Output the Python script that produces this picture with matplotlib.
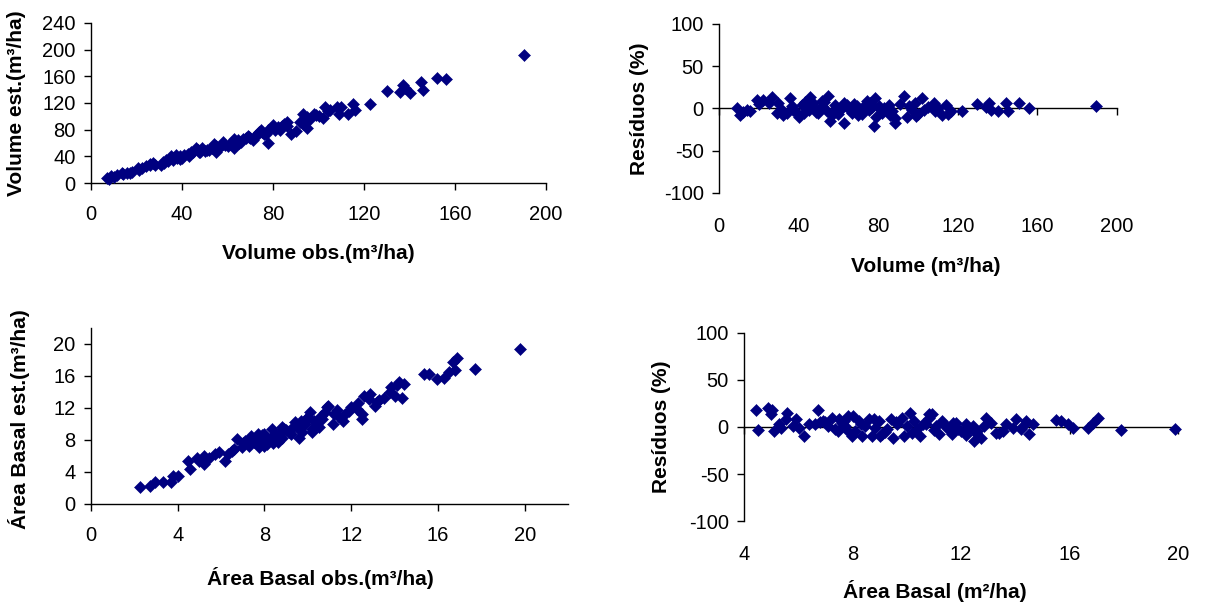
import matplotlib.pyplot as plt
import numpy as np

plt.rcParams['font.family'] = ['Liberation Sans', 'DejaVu Sans']
plt.rcParams['axes.unicode_minus'] = False

# volume: observed x estimated (m3/ha)
vol_obs = [190.2, 152.2, 155.9, 145, 146, 137, 136, 140, 130, 138, 122.6, 115, 116, 113, 108, 109, 110,
           103, 102, 98, 95, 93, 93, 95, 88, 86, 85, 83, 80, 78, 77.6, 76, 74.6, 73, 71, 69.5, 68, 66,
           64.5, 63, 61, 59, 58, 56, 55, 54, 53, 51, 49, 47.6, 46, 44, 42.6, 41, 39, 37.5, 36, 35, 33,
           31.6, 30.8, 27.4, 25.8, 24, 22.4, 20.7, 18, 15.7, 13.6, 11.4, 9, 7.2,
           100, 105, 82, 79, 75, 72, 67, 62, 57, 52, 48, 45, 43, 40, 38, 34, 32, 28, 26, 21, 17, 14,
           10, 8, 65, 70, 84, 96,
           36, 39, 44, 47, 50, 55, 58, 60, 63, 69, 74, 77, 81, 86, 90, 92, 99, 104]
vol_est = [192, 158, 156, 152, 140, 147, 136, 135, 138, 143, 118, 119, 109, 104, 114, 104, 114,
           114, 97, 104, 99, 104, 89, 82, 74, 85, 89, 79, 87, 79, 60, 74, 79, 72, 64, 69, 67, 62,
           64, 53, 59, 57, 59, 52, 47, 59, 52, 49.5, 52, 47, 52, 44.5, 43.5, 42, 40, 42, 37, 40, 35,
           32, 27, 30, 27, 25, 22, 22, 17, 15, 15, 12, 10, 7.4,
           100, 110, 84, 82, 77, 70, 66, 62, 55, 50, 47, 46, 40, 38, 38, 33, 30, 27, 29, 20, 15, 13,
           9, 6, 60, 68, 86, 95,
           34, 36, 46, 50, 48, 55, 61, 56, 66, 71, 76, 73, 80, 91, 78, 92, 102, 108]

# volume residuals (%)
vol_res_x = [8.9, 10.6, 14, 15.6, 19, 22.3, 26.5, 24.9, 29.9, 31.6, 32.4, 35.8, 36.6, 38.3, 40, 41.6,
             45.8, 45, 47.5, 50, 51.7, 55, 54.2, 56, 58.4, 61, 62.6, 64.3, 66.8, 69.4, 71.9, 74.4,
             75.2, 77.7, 78.6, 80.3, 81.9, 85.3, 87, 88.7, 88.7, 92.9, 94.5, 95.4, 98.7, 102, 103,
             108, 108.8, 112, 113.9, 116.4, 122.2, 129.8, 135.7, 136.5, 140.4, 144, 145, 151, 156,
             189.4, 29, 34, 42.5, 12, 20, 48, 53, 60, 65, 70, 73, 76, 83, 86, 97, 100, 105, 110, 115,
             134, 43, 57, 68, 79,
             37, 44, 49, 52, 59, 63, 67, 72, 77, 81, 91, 99]
vol_res = [0.4, -7.5, -1.6, -3.5, 10, 9.5, 13.4, 6.3, 7, -1.6, -7.5, 12.2, 2.4, -3.5, -9.5, 4.3,
           13.4, -1.6, 6.3, -5.5, 2.4, 14.2, -3.5, -15.4, 4.3, -1.6, -17.4, 4.3, -5.5, 2.4, -3.5, 8.3,
           -1.6, -21.3, 12.2, 2.4, -5.5, 4.3, -3.5, -11.4, -17.4, 14.2, -9.5, 2.4, 6.3, 12.2, -1.6,
           6.3, -3.5, -7.5, 4.3, -3.5, -3.5, 5.5, 6.3, -1.6, -3.5, 6.3, -3.5, 6.3, 0.4,
           3, -5.5, -5.5, -5.5, -4, 5, 0, 8, -6, 0, -8, 3, 6, 0, -8, -2, -6, 2, 0, -6,
           2, 8, -8, 5, -10,
           -2, 3, -4, 9, 1, 6, -3, -6, 2, -1, 5, -9]

# basal area: observed x estimated
ab_obs = [19.8, 17.7, 16.9, 16.7, 16.8, 16.5, 16.3, 15.95, 15.6, 15.35, 14.45, 14.2, 13.85, 14.35, 14,
          13.5, 13.2, 13.1, 12.85, 12.6, 12.8, 12.5, 12.5, 12.25, 12, 11.7, 11.6, 11.35, 11.2, 11.15,
          10.9, 10.8, 10.65, 10.5, 10.3, 10.2, 10.1, 9.95, 9.85, 9.75, 9.6, 9.5, 9.4, 9.15, 8.9, 8.8,
          8.6, 8.5, 8.35, 8.25, 8.1, 8, 7.85, 7.75, 7.55, 7.4, 7.3, 7.1, 6.95, 6.75, 6.6, 6.3, 6.2,
          5.9, 5.7, 5.45, 5.2, 5.2, 4.9, 5, 4.55, 4.45, 4, 3.8, 3.7, 3.3, 2.95, 2.7, 2.25,
          7.5, 7.9, 8.2, 8.4, 8.7, 9.0, 9.3, 9.7, 10.0, 10.4, 10.6, 10.95, 11.4, 11.9, 12.3, 13.3,
          13.8, 14.1, 6.5, 7.0, 8.0, 8.6, 9.2, 10.2, 8.8, 7.7]
ab_est = [19.4, 16.9, 18.3, 17.7, 16.7, 16.5, 15.8, 15.6, 16.25, 16.25, 15, 15.2, 14.6, 13.3, 13.5,
          13.3, 12.7, 12.2, 13.75, 13.5, 13.1, 11.25, 10.6, 11.9, 12.1, 11.25, 10.4, 11.7, 11.25, 10,
          12.1, 11.5, 10.6, 9.6, 10.4, 9, 11.5, 10.8, 10, 9, 8.3, 9.6, 10.2, 9, 9.4, 8.3,
          7.7, 8.75, 9.4, 8.1, 7.5, 8.75, 8.3, 7.1, 7.9, 8.5, 7.3, 7.9, 7.1, 8.1, 6.9, 6.25, 5.4,
          6.5, 6.25, 5.8, 6.05, 5, 5.8, 5.4, 4.4, 5.4, 3.5, 3.5, 2.7, 2.7, 2.7, 2.3, 2.1,
          7.8, 8.6, 8.0, 7.6, 8.9, 9.2, 9.6, 10.4, 10.9, 10.2, 11.0, 12.3, 11.0, 11.6, 12.6, 13.0,
          14.0, 14.9, 6.6, 7.6, 7.3, 8.2, 8.7, 9.4, 9.6, 8.7]

# basal area residuals (%)
ab_res_x = [19.9, 17.9, 17.04, 16.86, 16.68, 16.12, 15.94, 15.7, 15.5, 14.65, 14.52, 14.4, 14.28,
            14.03, 13.9, 13.66, 13.54, 13.3, 13.1, 12.92, 12.86, 12.74, 12.55, 12.49, 12.43, 12.3,
            12.18, 12, 11.8, 11.68, 11.5, 11.3, 11.18, 11.06, 10.93, 10.8, 10.7, 10.5, 10.38, 10.26,
            10.13, 10, 9.9, 9.83, 9.65, 9.5, 9.4, 9.27, 9.1, 8.96, 8.84, 8.72, 8.6, 8.47, 8.35, 8.23,
            8.1, 7.98, 7.85, 7.73, 7.6, 7.48, 7.36, 7.23, 7.1, 6.9, 6.72, 6.6, 6.4, 6.22, 6.03, 5.79,
            5.6, 5.54, 5.36, 5.1, 4.98, 4.88, 5.04, 4.5, 4.45,
            7.0, 7.5, 7.8, 8.3, 8.8, 9.2, 9.6, 10.2, 10.6, 11.0, 11.4, 11.9, 12.6, 13.4, 14.2, 10.8,
            8.0, 9.0, 7.7, 6.8, 5.9, 5.3, 12.2, 11.7]
ab_res = [-1.8, -3.2, 9.2, 4.6, -0.7, -0.7, 2.8, 6.4, 7.1, 2.8, -7.8, 6.4, 1, 8.2, -0.7, 2.8, -4.3,
          -6, 4.6, 9.9, 1, -11.3, -6, -14.9, 1, -2.5, 2.8, -4.3, 4.6, -7.8, -0.7, 6.4, -7.8, 1, 13.5,
          9.9, 2.8, -9.6, -2.5, 6.4, 15.2, 1, -9.6, 9.9, 2.8, -11.3, 8.2, -2.5, -7.8, 6.4, -0.7, -9.6,
          8.2, 1, -9.6, 6.4, -4.3, -9.6, 11.7, 1, 4.6, -4.3, -2.5, 9.9, 1, 6.4, 17.7, 2.8, 2.8, -9.6,
          -0.7, 1, 15.2, 8.2, -0.7, -4.3, 13.5, 19.9, 17.7, -3.5, 17.7,
          5, 8, -3, 3, 8, -5, 5, -6, 3, -3, 2, -2, -4, -6, -2, 14,
          12, -10, 6, 5, 8, 3, -8, 4]

NAVY = '#000080'
TICK_FS = 14.5
LABEL_FS = 15


def style_axes(ax):
    for side in ('top', 'right'):
        ax.spines[side].set_visible(False)
    for side in ('left', 'bottom'):
        ax.spines[side].set_linewidth(1.0)
    ax.tick_params(direction='out', length=5, width=1, labelsize=TICK_FS)
    ax.tick_params(axis='y', pad=6)
    ax.tick_params(axis='x', pad=11)


def scatter(ax, x, y):
    ax.plot(x, y, 'D', color=NAVY, markersize=6.4, markeredgewidth=0.4, clip_on=False, zorder=3)


def residual_axes(ax, x, y, xticks):
    style_axes(ax)
    scatter(ax, x, y)
    ax.set_ylim(-100, 100)
    ax.set_yticks([-100, -50, 0, 50, 100])
    ax.set_xticks(xticks)
    ax.set_xlim(xticks[0], xticks[-1])
    # x axis line sits on zero, tick labels stay below the plot area
    ax.spines['bottom'].set_position(('data', 0))
    ax.tick_params(axis='x', labelbottom=False)
    sec = ax.secondary_xaxis(0)
    sec.spines['bottom'].set_visible(False)
    sec.set_xticks(xticks)
    sec.tick_params(axis='x', length=0, pad=17, labelsize=TICK_FS)
    return sec


fig = plt.figure(figsize=(12.12, 6.04), dpi=100)

# volume observed x estimated
ax1 = fig.add_axes([0.0751, 0.697, 0.3754, 0.265])
style_axes(ax1)
scatter(ax1, vol_obs, vol_est)
ax1.set_xlim(0, 200)
ax1.set_ylim(0, 240)
ax1.set_xticks(np.arange(0, 201, 40))
ax1.set_yticks(np.arange(0, 241, 40))
ax1.set_xlabel('Volume obs.(m³/ha)', fontsize=LABEL_FS, fontweight='bold')
ax1.set_ylabel('Volume est.(m³/ha)', fontsize=LABEL_FS, fontweight='bold')
ax1.xaxis.set_label_coords(0.5, -0.38)
ax1.yaxis.set_label_coords(-0.143, 0.5)

# volume residuals
ax2 = fig.add_axes([0.5932, 0.6805, 0.3284, 0.2798])
residual_axes(ax2, vol_res_x, vol_res, [0, 40, 80, 120, 160, 200])
ax2.set_xlabel('Volume (m³/ha)', fontsize=LABEL_FS, fontweight='bold')
ax2.set_ylabel('Resíduos (%)', fontsize=LABEL_FS, fontweight='bold')
ax2.xaxis.set_label_coords(0.52, -0.379)
ax2.yaxis.set_label_coords(-0.176, 0.5)

# basal area observed x estimated
ax3 = fig.add_axes([0.0751, 0.1656, 0.3936, 0.2914])
style_axes(ax3)
scatter(ax3, ab_obs, ab_est)
ax3.set_xlim(0, 22)
ax3.set_ylim(0, 22)
ax3.set_xticks(np.arange(0, 21, 4))
ax3.set_yticks(np.arange(0, 21, 4))
ax3.set_xlabel('Área Basal obs.(m³/ha)', fontsize=LABEL_FS, fontweight='bold')
ax3.set_ylabel('Área Basal est.(m³/ha)', fontsize=LABEL_FS, fontweight='bold')
ax3.xaxis.set_label_coords(0.48, -0.358)
ax3.yaxis.set_label_coords(-0.128, 0.48)

# basal area residuals
ax4 = fig.add_axes([0.6139, 0.1374, 0.3581, 0.3113])
residual_axes(ax4, ab_res_x, ab_res, [4, 8, 12, 16, 20])
ax4.set_xlabel('Área Basal (m²/ha)', fontsize=LABEL_FS, fontweight='bold')
ax4.set_ylabel('Resíduos (%)', fontsize=LABEL_FS, fontweight='bold')
ax4.xaxis.set_label_coords(0.44, -0.314)
ax4.yaxis.set_label_coords(-0.168, 0.5)

fig.savefig('out.png', dpi=100)
